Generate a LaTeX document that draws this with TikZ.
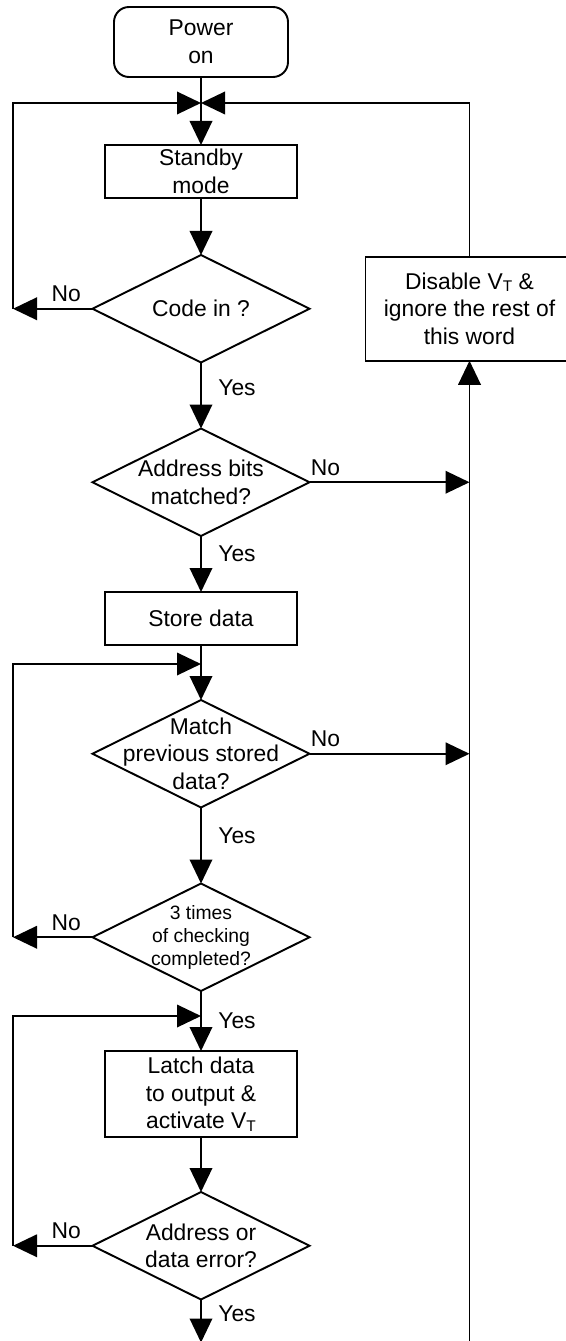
\documentclass[tikz,border=0pt]{standalone}
\usepackage{fontspec}
\setmainfont{Liberation Sans}
\usepackage{tikz}
\usetikzlibrary{shapes.geometric, arrows.meta, positioning, calc}
\tikzstyle{startstop} = [rectangle, rounded corners=0.3cm, minimum width=3.48cm, minimum height=1.4cm, inner sep=1pt, outer sep=0pt, align=center, draw=black, line width=1.1pt]
\tikzstyle{process} = [rectangle, minimum width=3.84cm, minimum height=1.06cm, inner sep=1pt, outer sep=0pt, align=center, draw=black, line width=1.1pt]
\tikzstyle{decision} = [diamond, minimum width=4.34cm, minimum height=2.15cm, inner sep=0pt, outer sep=0pt, draw=black, line width=1.1pt]
\tikzstyle{dtext} = [align=center, inner sep=0pt]
\tikzstyle{link} = [line width=1.1pt]
\tikzstyle{arrow} = [line width=1.1pt, -{Triangle[length=0.48cm, width=0.45cm]}]
\tikzstyle{yes} = [right=6pt]
\newcommand{\VT}{V\raisebox{-0.2ex}{\fontsize{8.8}{10}\selectfont T}}

\begin{document}
\begin{tikzpicture}[node distance=1.1cm, font=\fontsize{13}{15.8}\selectfont]
    \clip (0,0) rectangle (11.32,-26.82);

    \node (power) [startstop] at (4.02,-0.84) {Power\\on};
    \node (standby) [process, below=1.36cm of power] {Standby\\mode};
    \node (codein) [decision, below=1.14cm of standby, label={[dtext]center:Code in ?}] {};
    \node (addr) [decision, below=1.32cm of codein, label={[dtext]center:Address bits\\matched?}] {};
    \node (store) [process, below=1.12cm of addr] {Store data};
    \node (match) [decision, below=of store, label={[dtext]center:Match\\previous stored\\data?}] {};
    \node (times) [decision, below=1.52cm of match, label={[dtext, font=\fontsize{11}{13}\selectfont]center:3 times\\of checking\\completed?}] {};
    \node (latch) [process, below=1.2cm of times, minimum height=1.72cm] {Latch data\\to output \&\\activate \VT};
    \node (error) [decision, below=of latch, label={[dtext]center:Address or\\data error?}] {};
    \node (disable) [process, right=1.12cm of codein, minimum width=4.16cm, minimum height=2.08cm] {Disable \VT\ \&\\ignore the rest of\\this word};

    % junctions and rails
    \coordinate [below=0.52cm of power] (j1);
    \coordinate [below=0.38cm of store] (j2);
    \coordinate [below=0.5cm of times] (j3);
    \coordinate [below=0.86cm of error] (ebot);
    \coordinate (rail) at (0.26,0);
    \coordinate (c1) at (rail |- codein.west);
    \coordinate (c2) at (rail |- times.west);
    \coordinate (c3) at (rail |- error.west);
    \coordinate (rbot) at (disable |- ebot);

    \draw [link] (power) -- (j1);
    \draw [arrow] (j1) -- (standby);
    \draw [arrow] (standby) -- (codein);
    \draw [arrow] (codein.west) -- node[above, pos=0.33] {No} (c1);
    \draw [arrow] (c1) |- (j1);
    \draw [arrow] (disable.north) |- (j1);
    \draw [arrow] (codein) -- node[yes, pos=0.39] {Yes} (addr);
    \draw [arrow] (addr.east) -- node[above, pos=0.1] {No} (addr.east -| disable);
    \draw [arrow] (addr) -- node[yes, pos=0.32] {Yes} (store);
    \draw [link] (store) -- (j2);
    \draw [arrow] (j2) -- (match);
    \draw [arrow] (match.east) -- node[above, pos=0.1] {No} (match.east -| disable);
    \draw [arrow] (match) -- node[yes, pos=0.37] {Yes} (times);
    \draw [arrow] (times.west) -- node[above, pos=0.33] {No} (c2);
    \draw [arrow] (c2) |- (j2);
    \draw [arrow] (times) -- node[yes, pos=0.5] {Yes} (latch);
    \draw [arrow] (latch) -- (error);
    \draw [arrow] (error.west) -- node[above, pos=0.33] {No} (c3);
    \draw [arrow] (c3) |- (j3);
    \draw [arrow] (error) -- node[yes, pos=0.33] {Yes} (ebot);
    \draw [arrow] (rbot) -- (disable.south);
\end{tikzpicture}
\end{document}
